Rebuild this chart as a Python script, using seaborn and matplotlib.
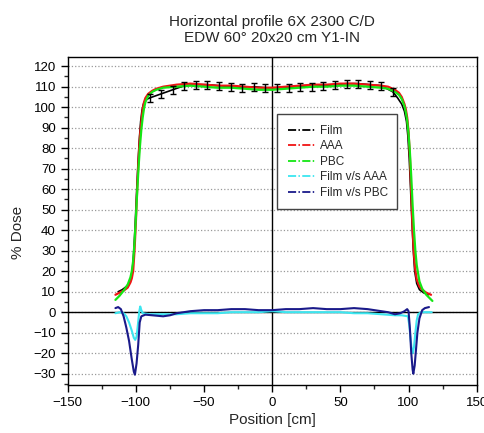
import seaborn as sns
import matplotlib.pyplot as plt
from matplotlib.lines import Line2D
from matplotlib.ticker import MultipleLocator

# Film measurement: penumbra points + points with error bars on the plateau
film_left_x = [-113, -110, -107, -105, -103.5, -102.5, -101.5, -100.5, -99.5, -98.5,
               -97.5, -96.5, -95.5, -94.5, -93]
film_left_y = [10, 11, 12.5, 14, 16.5, 21, 30, 43, 58, 72,
               84, 93, 98.5, 101.5, 103.5]
film_bar_x = [-90, -81.5, -73, -64.5, -56, -47.5, -39, -30.5, -22, -13.5, -5,
              3.5, 12, 20.5, 29, 37.5, 46, 54.5, 63, 71.5, 80, 88.5]
film_bar_y = [104.5, 106.5, 108.5, 110.5, 111, 111, 110.5, 110, 109.5, 110, 109.5,
              109.5, 109.5, 110, 110, 110.5, 111, 111.5, 111.5, 111, 110.5, 107.5]
film_bar_err = [2] * 22
film_right_x = [92, 95, 97, 98.5, 99.5, 100.5, 101.5, 102.5, 103.5, 104.5,
                106, 108, 111, 114.5]
film_right_y = [104.5, 101.5, 98, 93, 86, 75, 60, 44, 30, 20,
                14, 11, 9.5, 8.5]

# calculated profiles
calc_x = [-115, -112, -109, -106, -104, -103, -102, -101, -100, -99, -98, -97, -96, -95, -94, -93,
          -91, -88, -85, -80,
          -70, -60, -50, -40, -30, -20, -10, 0, 10, 20, 30, 40, 50, 60, 70, 80,
          85, 90, 93, 95, 97, 98, 99, 100, 101, 102, 103, 104, 105, 106, 108, 110, 113]
aaa_x = calc_x + [116.5]
aaa_y = [8.5, 9.5, 10.5, 12, 14.5, 16.5, 20, 30, 44, 61, 75, 86, 93, 99, 102.5, 104.5,
         106.5, 108, 109, 110,
         111, 111.5, 111, 110.5, 110.5, 110, 109.5, 109.5, 110, 110.5, 111, 111, 111.5, 111.5, 111, 110.5,
         110, 108.5, 107, 105, 101.5, 99, 95, 88, 76, 58, 40, 28, 20.5, 16, 12.5, 11, 9.5, 8.5]
pbc_x = calc_x + [117.5]
pbc_y = [6, 8, 10.5, 13.5, 17, 20, 25, 34, 46, 59, 71, 81, 89, 95, 99.5, 102.5,
         105.5, 107.5, 108.5, 109.5,
         110, 110.5, 110, 109.5, 109.5, 109, 108.5, 108.5, 109, 109.5, 110, 110, 110.5, 110.5, 110, 109.5,
         109, 107.5, 106, 104, 100.5, 97.5, 93.5, 87, 78, 66, 52, 40, 30, 23, 15, 11.5, 8.5, 5.5]

# differences
diff_aaa_x = [-115, -112, -109, -107, -105, -103, -101.5, -100.5, -99.5, -98.5,
              -97.5, -96.8, -96, -95, -90, -80, -70, -60, -50, -40,
              -30, -20, -10, 0, 10, 20, 30, 40, 50, 60,
              70, 80, 90, 95, 99.5, 100.5, 101.5, 102.5, 103, 104,
              105, 106, 107, 109, 112, 117]
diff_aaa_y = [-0.5, 0, -0.5, -2, -5, -9, -12.5, -13.5, -12, -6,
              0.5, 2.8, 1, -0.5, -1, -1, -1, -0.5, -0.5, -0.5,
              0, 0, 0, 0.5, 0, 0, 0, 0, 0, -0.5,
              -0.5, -1, -1.5, -1.5, -2, -6, -13, -19, -20, -17,
              -10, -4, -1, 0, 0, 0]
diff_pbc_x = [-115, -113, -111, -109, -107, -105, -103, -101.5, -100.7, -99.5,
              -98.3, -97.2, -96, -93, -88, -80, -75, -70, -65, -60,
              -50, -40, -30, -20, -10, 0, 10, 20, 30, 40,
              50, 60, 70, 75, 80, 85, 90, 94, 97, 99,
              100, 101, 102, 103, 103.5, 104.5, 105.5, 106.5, 108, 110,
              112, 115]
diff_pbc_y = [2, 2.5, 1.5, -2, -7.5, -14, -23, -29, -30.5, -25,
              -16, -5, -2, -1.2, -1.5, -2, -1.5, -0.5, 0, 0.5,
              1, 1, 1.5, 1.5, 1, 1, 1.5, 1.5, 2, 1.5,
              1.5, 2, 1.5, 1, 0.5, 0, -1, -0.5, 0.5, 1.5,
              0.5, -8, -20, -28, -30, -26, -18, -10, -3, 1,
              2, 2.5]

labels = ["Film", "AAA", "PBC", "Film v/s AAA", "Film v/s PBC"]
colors = ["black", "#f01414", "#14e614", "#3ce6f0", "#1a1a8a"]

sns.set_style("ticks")
plt.rcParams['font.family'] = ['Liberation Sans', 'DejaVu Sans']

fig = plt.figure(figsize=(4.85, 4.33), dpi=100)
ax = fig.add_axes([0.1396, 0.1109, 0.8433, 0.7575])

film_x = film_left_x + film_bar_x + film_right_x
film_y = film_left_y + film_bar_y + film_right_y

sns.lineplot(x=film_x, y=film_y, color=colors[0], lw=1.2, sort=False, estimator=None, ax=ax)
sns.lineplot(x=aaa_x, y=aaa_y, color=colors[1], lw=1.6, sort=False, estimator=None, ax=ax)
sns.lineplot(x=pbc_x, y=pbc_y, color=colors[2], lw=1.6, sort=False, estimator=None, ax=ax)
ax.errorbar(film_bar_x, film_bar_y, yerr=film_bar_err, fmt='none', ecolor='black',
            elinewidth=1, capsize=2.5, capthick=1, zorder=5)
sns.lineplot(x=diff_aaa_x, y=diff_aaa_y, color=colors[3], lw=1.5, sort=False, estimator=None, ax=ax)
sns.lineplot(x=diff_pbc_x, y=diff_pbc_y, color=colors[4], lw=1.5, sort=False, estimator=None, ax=ax)

ax.axhline(0, color='black', lw=1, zorder=1)
ax.axvline(0, color='black', lw=1, zorder=1)

ax.set_xlim(-150, 150)
ax.set_ylim(-35.5, 124.5)
ax.xaxis.set_major_locator(MultipleLocator(50))
ax.xaxis.set_minor_locator(MultipleLocator(25))
ax.yaxis.set_major_locator(MultipleLocator(10))
ax.yaxis.set_minor_locator(MultipleLocator(5))
ax.tick_params(which='major', direction='out', length=5, width=1, labelsize=9.5, colors='black')
ax.tick_params(which='minor', direction='out', length=3, width=1)
ax.yaxis.grid(True, which='major', linestyle=':', color='#999999', lw=0.9)
ax.set_axisbelow(True)
for s in ax.spines.values():
    s.set_color('black')
    s.set_linewidth(1)

ax.set_xlabel("Position [cm]", fontsize=11)
ax.set_ylabel("% Dose", fontsize=11)
ax.yaxis.set_label_coords(-0.105, 0.465)
ax.xaxis.set_label_coords(0.5, -0.085)
ax.set_title("Horizontal profile 6X 2300 C/D\nEDW 60° 20x20 cm Y1-IN", fontsize=11, pad=11)

handles = [Line2D([], [], color=c, lw=1.3, linestyle=(0, (4.5, 1.3, 0.8, 1.3))) for c in colors]
leg = ax.legend(handles, labels, loc='upper left', bbox_to_anchor=(0.5125, 0.826, 0.292, 0.0),
                mode='expand', borderaxespad=0, fontsize=8.5, frameon=True, fancybox=False,
                edgecolor='#444444', framealpha=1, handlelength=2.3, handletextpad=0.4,
                labelspacing=0.3, borderpad=0.9)
leg.get_frame().set_linewidth(1)

fig.savefig("out.png", dpi=100)
